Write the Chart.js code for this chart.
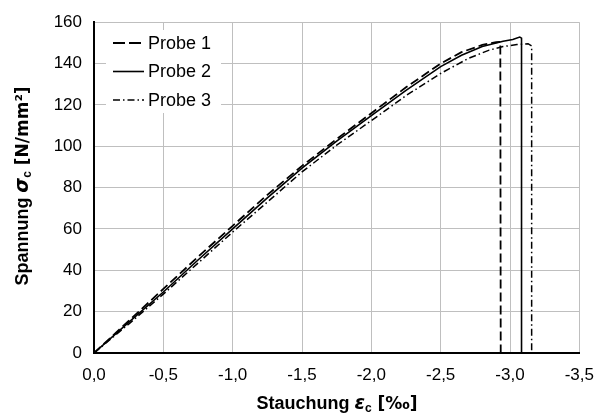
<!DOCTYPE html>
<html>
<head>
<meta charset="utf-8">
<script src="https://cdn.jsdelivr.net/npm/chart.js@4.4.1/dist/chart.umd.min.js"></script>
<style>
  html, body { margin: 0; padding: 0; background: #fff; }
  #wrap { width: 606px; height: 414px; }
</style>
</head>
<body>
<div id="wrap"><canvas id="chart" width="606" height="414"></canvas></div>
<script>
// Stauchung (strain, ‰) and Spannung (stress, N/mm²)
const probe1Strain = [0, -0.25, -0.5, -0.75, -1.0, -1.25, -1.5, -1.75, -2.0, -2.25, -2.5, -2.65, -2.8, -2.9, -2.93, -2.933];
const probe1Stress = [0, 15.5, 31, 46.5, 61.5, 76.5, 90.5, 103.5, 116, 128.5, 140, 145.5, 149, 150.3, 150.5, 0];

const probe2Strain = [0, -0.25, -0.5, -0.75, -1.0, -1.25, -1.5, -1.75, -2.0, -2.25, -2.5, -2.65, -2.8, -2.95, -3.02, -3.07, -3.083, -3.083];
const probe2Stress = [0, 14.8, 29.5, 45, 60, 75, 89.4, 102.5, 114.8, 127, 138.5, 144, 148.2, 150.8, 151.6, 152.8, 152.3, 0];

const probe3Strain = [0, -0.25, -0.5, -0.75, -1.0, -1.25, -1.5, -1.75, -2.0, -2.25, -2.5, -2.7, -2.85, -2.95, -3.05, -3.13, -3.156, -3.156];
const probe3Stress = [0, 14, 28.5, 43.5, 58.5, 73, 87.6, 100.5, 112.4, 124.5, 135.2, 142.5, 146.5, 148.2, 149.2, 149.6, 148.5, 0];

const seriesNames = ['Probe 1', 'Probe 2', 'Probe 3'];

const toPoints = (xs, ys) => xs.map((x, i) => ({ x: x, y: ys[i] }));

const fontName = '"Liberation Sans", Arial, sans-serif';
const wideFont = '"DejaVu Sans", sans-serif';

// Legend inside the plot area, like the Excel original
const innerLegend = {
    id: 'innerLegend',
    afterDraw(chart) {
        const ctx = chart.ctx;
        ctx.save();
        ctx.fillStyle = '#fff';
        ctx.fillRect(106, 30, 115, 83);
        chart.data.datasets.forEach((ds, i) => {
            const y = 43 + i * 28.5;
            ctx.beginPath();
            ctx.strokeStyle = '#000';
            ctx.lineWidth = ds.borderWidth;
            ctx.setLineDash(ds.legendDash || []);
            ctx.moveTo(113, y);
            ctx.lineTo(144, y);
            ctx.stroke();
            ctx.setLineDash([]);
            ctx.fillStyle = '#000';
            ctx.font = '18px ' + fontName;
            ctx.textBaseline = 'middle';
            ctx.textAlign = 'left';
            ctx.fillText(ds.label, 148, y + 1);
        });
        ctx.restore();
    }
};

// Axis titles with Greek symbol and subscript
function drawRuns(ctx, runs, cx, cy) {
    let total = 0;
    runs.forEach(r => { ctx.font = r.font; r.w = ctx.measureText(r.text).width; total += r.w; });
    let x = cx - total / 2;
    ctx.textBaseline = 'alphabetic';
    ctx.textAlign = 'left';
    runs.forEach(r => {
        ctx.font = r.font;
        ctx.fillText(r.text, x, cy + (r.dy || 0));
        x += r.w;
    });
}

const axisTitles = {
    id: 'axisTitles',
    afterDraw(chart) {
        const ctx = chart.ctx;
        const b = 'bold 18px ' + fontName;
        const bw = 'bold 17px ' + wideFont;
        const bi = 'italic bold 19px ' + wideFont;
        const sub = 'bold 12px ' + fontName;
        ctx.save();
        ctx.fillStyle = '#000';
        drawRuns(ctx, [
            { text: 'Stauchung ', font: b },
            { text: 'ε', font: bi },
            { text: 'c', font: sub, dy: 3 },
            { text: ' [‰]', font: bw }
        ], 337, 409);
        ctx.translate(28, 186);
        ctx.rotate(-Math.PI / 2);
        drawRuns(ctx, [
            { text: 'Spannung ', font: b },
            { text: 'σ', font: bi },
            { text: 'c', font: sub, dy: 3 },
            { text: ' [N/mm²]', font: bw }
        ], 0, 0);
        ctx.restore();
    }
};

const ctx = document.getElementById('chart').getContext('2d');

const chart = new Chart(ctx, {
    type: 'line',
    data: {
        datasets: [
            {
                label: seriesNames[0],
                data: toPoints(probe1Strain, probe1Stress),
                borderColor: '#000',
                borderWidth: 1.8,
                borderDash: [9, 4],
                legendDash: [12, 4],
                pointRadius: 0,
                tension: 0,
                fill: false
            },
            {
                label: seriesNames[1],
                data: toPoints(probe2Strain, probe2Stress),
                borderColor: '#000',
                borderWidth: 1.6,
                pointRadius: 0,
                tension: 0,
                fill: false
            },
            {
                label: seriesNames[2],
                data: toPoints(probe3Strain, probe3Stress),
                borderColor: '#000',
                borderWidth: 1.5,
                borderDash: [7, 3, 1.5, 3],
                legendDash: [7, 3, 1.5, 3],
                pointRadius: 0,
                tension: 0,
                fill: false
            }
        ]
    },
    options: {
        responsive: false,
        animation: false,
        layout: {
            padding: { top: 20, right: 26, left: 0, bottom: 0 }
        },
        plugins: {
            legend: { display: false },
            tooltip: { enabled: false }
        },
        scales: {
            x: {
                type: 'linear',
                min: -3.5,
                max: 0,
                reverse: true,
                afterFit: (scale) => { scale.height = 61; },
                ticks: {
                    stepSize: 0.5,
                    color: '#000',
                    padding: 12,
                    font: { family: fontName, size: 17 },
                    callback: (v) => v.toFixed(1).replace('.', ',')
                },
                grid: {
                    color: '#BFBFBF',
                    lineWidth: 1,
                    drawTicks: false
                },
                border: { color: '#000', width: 2 }
            },
            y: {
                min: 0,
                max: 160,
                afterFit: (scale) => { scale.width = 94; },
                ticks: {
                    stepSize: 20,
                    color: '#000',
                    padding: 12,
                    font: { family: fontName, size: 17 }
                },
                grid: {
                    color: '#BFBFBF',
                    lineWidth: 1,
                    drawTicks: false
                },
                border: { color: '#000', width: 2 }
            }
        }
    },
    plugins: [innerLegend, axisTitles]
});
</script>
</body>
</html>
